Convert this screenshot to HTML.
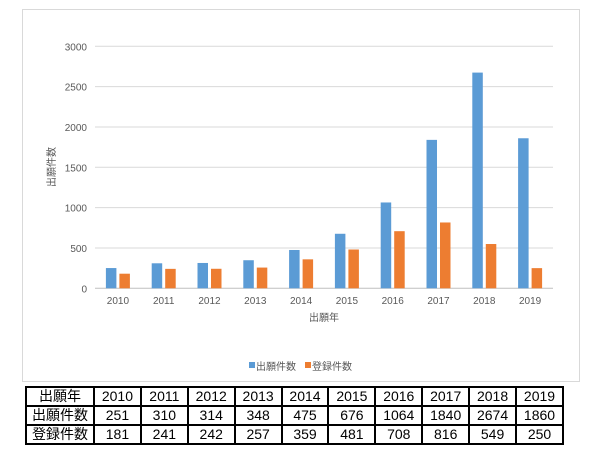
<!DOCTYPE html>
<html><head><meta charset="utf-8">
<style>
body{margin:0;width:605px;height:462px;background:#fff;position:relative;font-family:"Liberation Sans","Noto Sans CJK JP",sans-serif;overflow:hidden}
#chartbox{position:absolute;left:22px;top:9px;width:558px;height:373px;border:1px solid #d9d9d9;box-sizing:border-box}
svg{position:absolute;left:0;top:0}
table{position:absolute;left:25px;top:386px;border-collapse:collapse;font-size:14px;color:#000;table-layout:fixed;width:539px}
td{border:2px solid #000;height:17px;padding:0;text-align:center;line-height:17px;white-space:nowrap;overflow:hidden}
col.h{width:68px}
</style></head><body>
<div id="chartbox"></div>
<svg id="chart" width="605" height="462"></svg>
<table>
<colgroup><col class="h"><col><col><col><col><col><col><col><col><col><col></colgroup>
<tr><td>出願年</td><td>2010</td><td>2011</td><td>2012</td><td>2013</td><td>2014</td><td>2015</td><td>2016</td><td>2017</td><td>2018</td><td>2019</td></tr>
<tr><td>出願件数</td><td>251</td><td>310</td><td>314</td><td>348</td><td>475</td><td>676</td><td>1064</td><td>1840</td><td>2674</td><td>1860</td></tr>
<tr><td>登録件数</td><td>181</td><td>241</td><td>242</td><td>257</td><td>359</td><td>481</td><td>708</td><td>816</td><td>549</td><td>250</td></tr>
</table>
<script>
const categories=["2010","2011","2012","2013","2014","2015","2016","2017","2018","2019"];
const applications=[251,310,314,348,475,676,1064,1840,2674,1860];
const registrations=[181,241,242,257,359,481,708,816,549,250];
const yTicks=[0,500,1000,1500,2000,2500,3000];
const NS="http://www.w3.org/2000/svg";
const svg=document.getElementById('chart');
const x0=95,x1=553,yTop=46.3,yBot=288.3,yMax=3000;
const bw=(x1-x0)/categories.length;
const y=v=>yBot-(v/yMax)*(yBot-yTop);
function el(t,a){const e=document.createElementNS(NS,t);for(const k in a)e.setAttribute(k,a[k]);svg.appendChild(e);return e;}
yTicks.forEach(t=>{
 const l=el('line',{x1:x0,x2:x1,y1:y(t),y2:y(t),stroke:t===0?'#bfbfbf':'#d9d9d9','stroke-width':1});
 
 
 const tx=el('text',{x:87,y:y(t)+4,'text-anchor':'end','font-size':10,fill:'#595959'});
 tx.textContent=t;
 
 
});
categories.forEach((c,i)=>{
 const cx=x0+bw*(i+0.5);
 const a=el('rect',{x:cx-12,y:y(applications[i]),width:10.5,height:yBot-y(applications[i]),fill:'#5b9bd5'});
 
 
 const r=el('rect',{x:cx+1.5,y:y(registrations[i]),width:10.5,height:yBot-y(registrations[i]),fill:'#ed7d31'});
 
 
 const t=el('text',{x:cx,y:304,'text-anchor':'middle','font-size':10,fill:'#595959'});
 t.textContent=c;
 
 
});
const xt=el('text',{x:(x0+x1)/2,y:321,'text-anchor':'middle','font-size':10,fill:'#595959'});
xt.textContent='出願年';


const yt=el('text',{x:0,y:0,'text-anchor':'middle','font-size':10,fill:'#595959',transform:'translate(55,167) rotate(-90)'});
yt.textContent='出願件数';


const l1=el('rect',{x:249,y:362,width:6,height:6,fill:'#5b9bd5'});


const lt1=el('text',{x:256,y:370,'font-size':10,fill:'#595959'});
lt1.textContent='出願件数';


const l2=el('rect',{x:305,y:362,width:6,height:6,fill:'#ed7d31'});


const lt2=el('text',{x:312,y:370,'font-size':10,fill:'#595959'});
lt2.textContent='登録件数';


</script>
</body></html>
